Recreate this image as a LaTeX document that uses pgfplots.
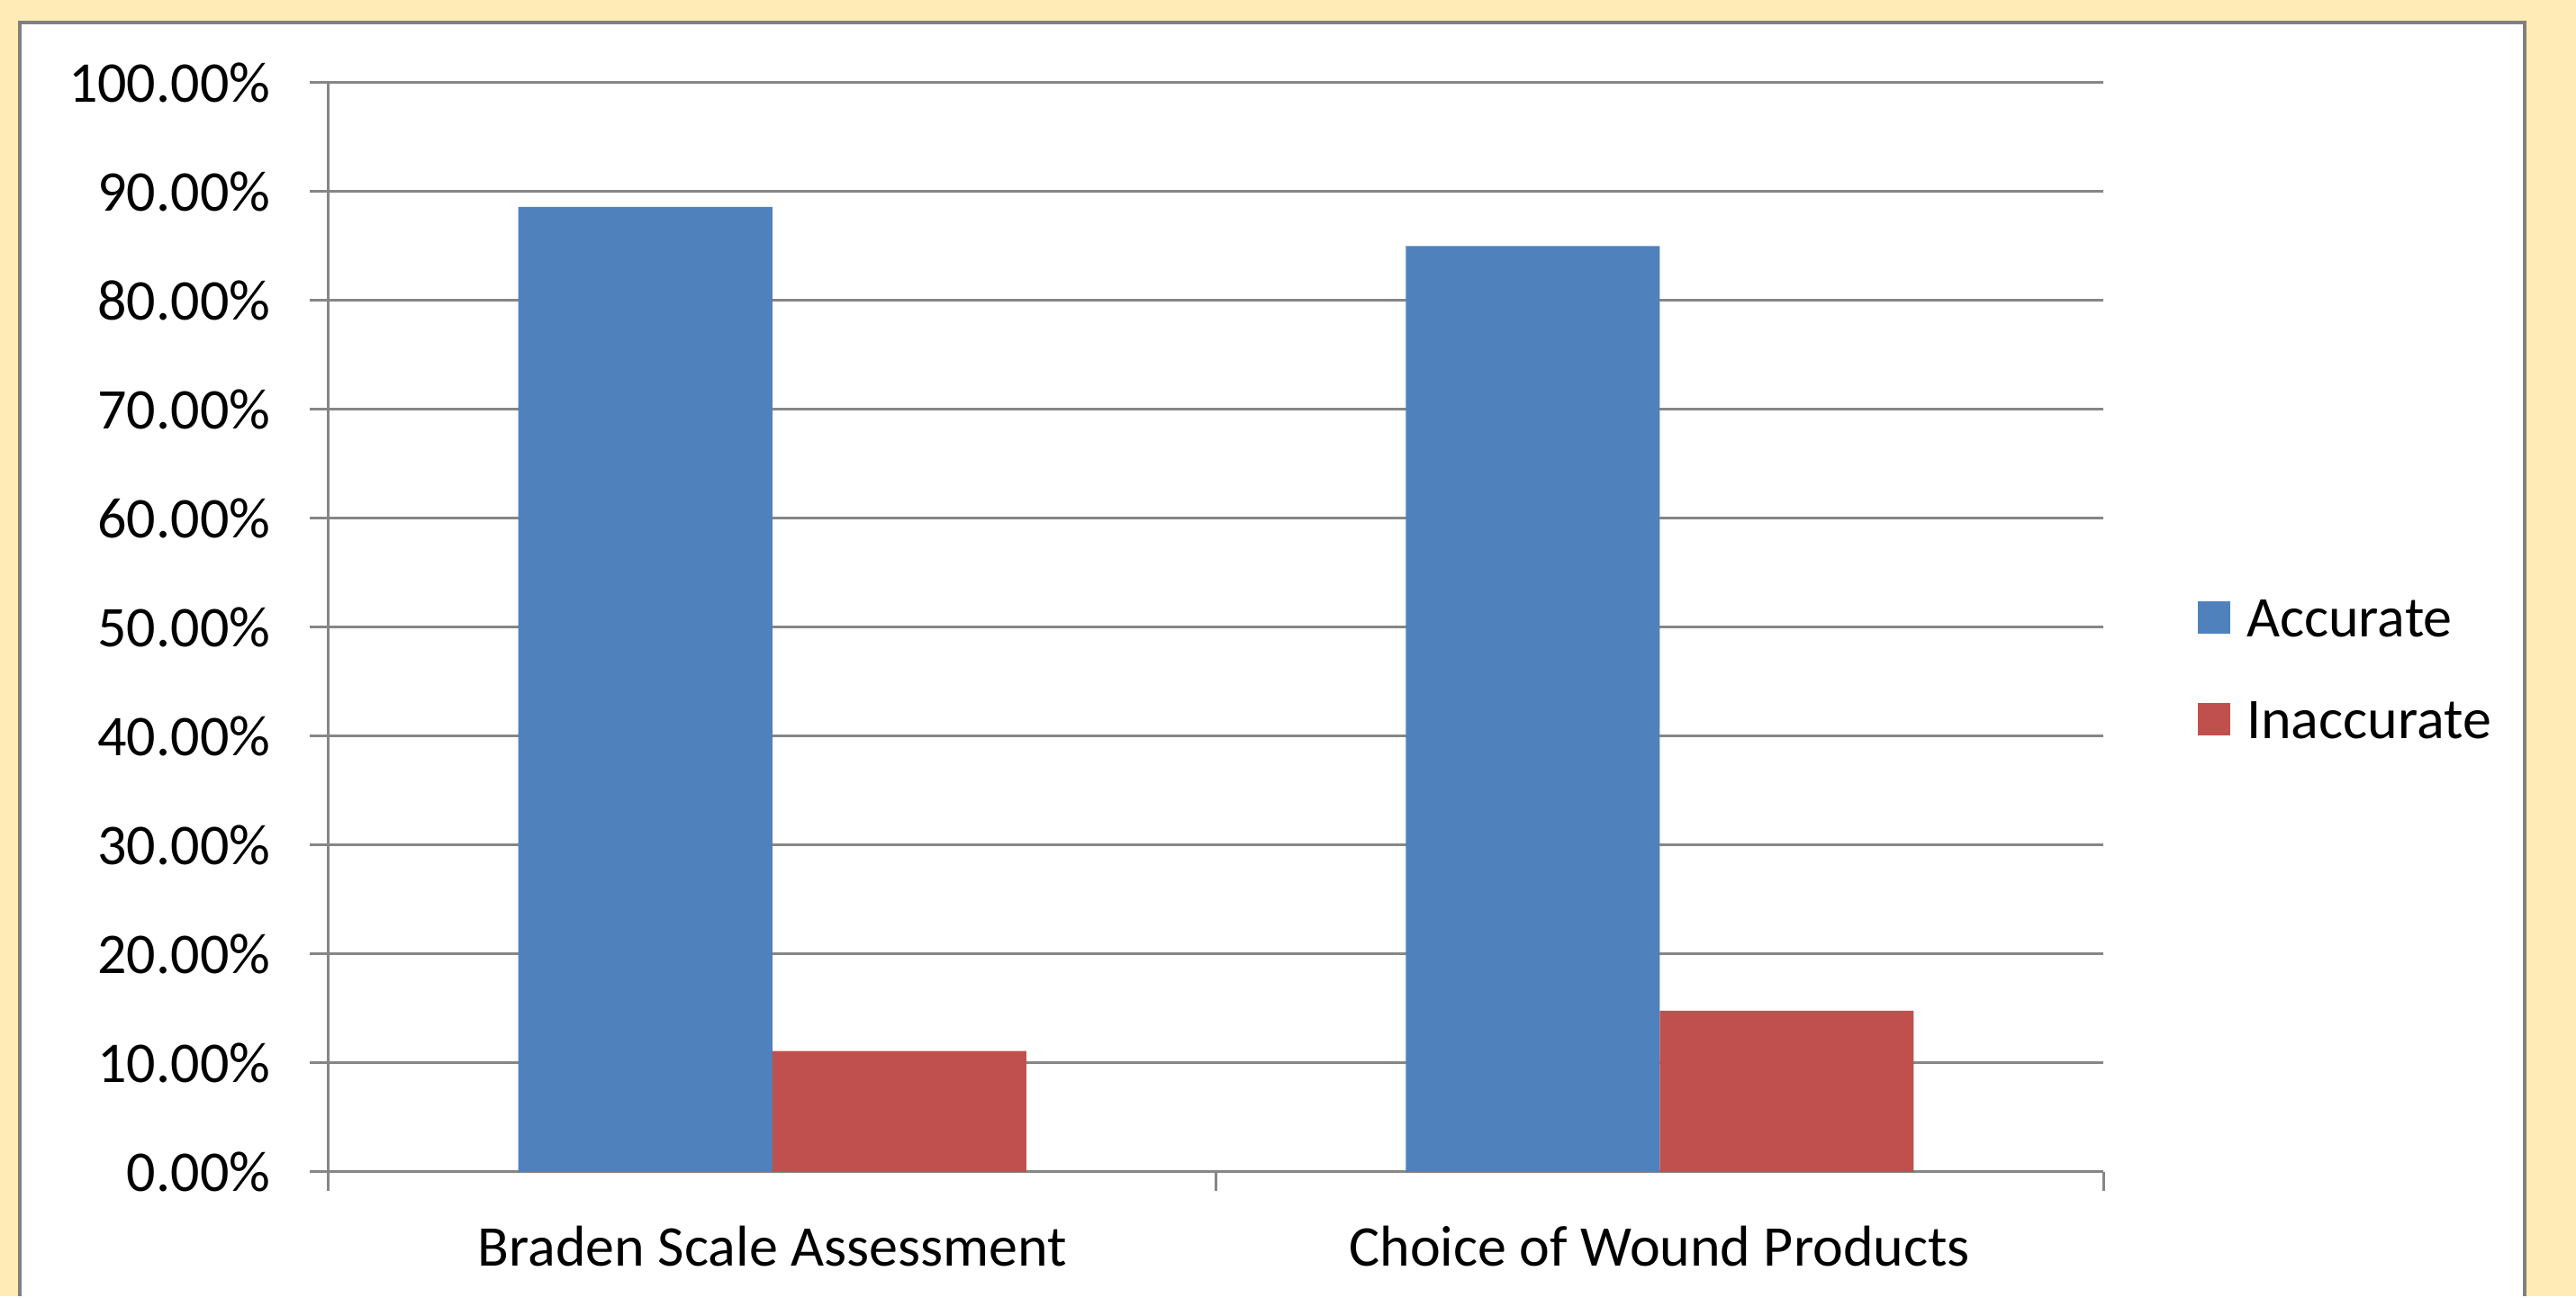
\documentclass[border=0pt]{standalone}
\usepackage{fontspec}
\setmainfont{Carlito}
\usepackage{pgfplots}
\pgfplotsset{compat=1.18}
\definecolor{bgyellow}{RGB}{255,235,181}
\definecolor{panelgray}{RGB}{128,128,128}
\definecolor{gridgray}{RGB}{134,134,134}
\definecolor{accblue}{RGB}{79,129,189}
\definecolor{inred}{RGB}{192,80,77}
\pgfplotsset{sqlegend/.style={legend image code/.code={\fill[##1] (0pt,-4.5pt) rectangle (9pt,4.5pt);}}}
\begin{document}
\begin{tikzpicture}
\fill[bgyellow] (-91.25pt,-34.5pt) rectangle (624pt,325.5pt);
\fill[white] (-85.75pt,-34.5pt) rectangle (609.75pt,319.25pt);
\draw[panelgray, line width=1pt] (-85.75pt,-34.5pt) -- (-85.75pt,319.25pt) -- (609.75pt,319.25pt) -- (609.75pt,-34.5pt);
\useasboundingbox (-91.25pt,-34.5pt) rectangle (624pt,325.5pt);
\begin{axis}[
  at={(0pt,0pt)}, anchor=south west,
  scale only axis, width=492.75pt, height=302.5pt,
  ybar=0pt, bar width=70.5pt,
  xmin=0.5, xmax=2.5, ymin=0, ymax=100,
  axis x line*=bottom, axis y line*=left,
  axis line style={draw=gridgray, line width=0.75pt},
  tick align=outside,
  xtick={1,2},
  xticklabels={Braden Scale Assessment, Choice of Wound Products},
  major x tick style={draw=none},
  minor xtick={0.5,1.5,2.5},
  minor tick length=5.25pt,
  major tick length=5.25pt,
  tick style={draw=gridgray, line width=0.75pt},
  ytick={0,10,...,100},
  yticklabels={0.00\%,10.00\%,20.00\%,30.00\%,40.00\%,50.00\%,60.00\%,70.00\%,80.00\%,90.00\%,100.00\%},
  ymajorgrids,
  major grid style={draw=gridgray, line width=0.75pt},
  ticklabel style={font=\fontsize{16}{19}\selectfont, text=black},
  yticklabel style={anchor=east, inner sep=0pt, xshift=-10.75pt},
  xticklabel style={anchor=base, inner sep=0pt, yshift=-21pt},
  legend style={at={(1.0533,0.4624)}, anchor=west, draw=none, fill=none,
    inner sep=0pt, outer sep=0pt, row sep=17.25pt, column sep=4.5pt,
    font=\fontsize{16}{19}\selectfont,
    nodes={inner sep=0pt, text height=11pt, text depth=0pt, anchor=west}},
  legend cell align=left,
]
\addplot[fill=accblue, draw=none, sqlegend] coordinates {(1,88.6) (2,85.0)};
\addplot[fill=inred, draw=none, sqlegend] coordinates {(1,11.1) (2,14.8)};
\legend{Accurate, Inaccurate}
\end{axis}
\end{tikzpicture}
\end{document}
